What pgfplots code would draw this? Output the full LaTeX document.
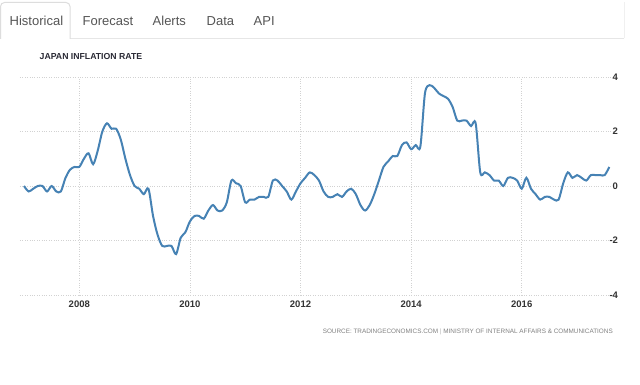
\documentclass[border=0pt]{standalone}
\usepackage{pgfplots}
\usepackage{pgfplotstable}
\pgfplotsset{compat=1.18}
\usepackage{fontspec}
\setmainfont{Liberation Sans}
\definecolor{linecol}{HTML}{4682B4}
\definecolor{tabborder}{HTML}{DDDDDD}
\definecolor{tabline}{HTML}{E6E6E6}
\definecolor{tabtext}{HTML}{555555}
\definecolor{titlecol}{HTML}{2A2A35}
\definecolor{labelcol}{HTML}{333333}
\definecolor{srccol}{HTML}{808080}
\definecolor{gridcol}{HTML}{D2D2D2}

% month index (0 = Jan 2007) and year-on-year inflation rate (%)
\pgfplotstableread{
m v
0 0.0
1 -0.2
2 -0.1
3 0.0
4 0.0
5 -0.2
6 0.0
7 -0.2
8 -0.2
9 0.3
10 0.6
11 0.7
12 0.7
13 1.0
14 1.2
15 0.8
16 1.3
17 2.0
18 2.3
19 2.1
20 2.1
21 1.7
22 1.0
23 0.4
24 0.0
25 -0.1
26 -0.3
27 -0.1
28 -1.1
29 -1.8
30 -2.2
31 -2.2
32 -2.2
33 -2.5
34 -1.9
35 -1.7
36 -1.3
37 -1.1
38 -1.1
39 -1.2
40 -0.9
41 -0.7
42 -0.9
43 -0.9
44 -0.6
45 0.2
46 0.1
47 0.0
48 -0.6
49 -0.5
50 -0.5
51 -0.4
52 -0.4
53 -0.4
54 0.2
55 0.2
56 0.0
57 -0.2
58 -0.5
59 -0.2
60 0.1
61 0.3
62 0.5
63 0.4
64 0.2
65 -0.2
66 -0.4
67 -0.4
68 -0.3
69 -0.4
70 -0.2
71 -0.1
72 -0.3
73 -0.7
74 -0.9
75 -0.7
76 -0.3
77 0.2
78 0.7
79 0.9
80 1.1
81 1.1
82 1.5
83 1.6
84 1.35
85 1.5
86 1.45
87 3.4
88 3.7
89 3.6
90 3.4
91 3.3
92 3.2
93 2.9
94 2.4
95 2.4
96 2.4
97 2.2
98 2.3
99 0.5
100 0.5
101 0.4
102 0.2
103 0.2
104 0.0
105 0.3
106 0.3
107 0.2
108 -0.1
109 0.3
110 -0.1
111 -0.3
112 -0.5
113 -0.4
114 -0.4
115 -0.5
116 -0.5
117 0.1
118 0.5
119 0.3
120 0.4
121 0.3
122 0.2
123 0.4
124 0.4
125 0.4
126 0.4
127 0.7
}\infl

\begin{document}
\begin{tikzpicture}[x=1pt,y=1pt]
\useasboundingbox (0,0) rectangle (640,385);
\fill[white] (0,0) rectangle (640,385);
% tabs
\draw[tabline, line width=1.5pt] (70,346.5) -- (624,346.5);
\draw[white!94!black, line width=0.6pt] (624,346.5) -- (624,383);
\fill[white, rounded corners=4pt] (0.5,346) -- (0.5,382.5) -- (70,382.5) -- (70,346) -- cycle;
\draw[tabborder, line width=1pt, rounded corners=4pt] (0.5,346) -- (0.5,382.5) -- (70,382.5) -- (70,346);
\begin{scope}[every node/.style={anchor=base west, inner sep=0pt, text=tabtext, font=\fontsize{13}{13}\selectfont}]
\node at (9.5,359) {Historical};
\node at (82.5,359) {Forecast};
\node at (152.5,359) {Alerts};
\node at (206.5,359) {Data};
\node at (253.5,359) {API};
\end{scope}
% title
\node[anchor=base west, inner sep=0pt, text=titlecol, font=\bfseries\fontsize{8.7}{8.7}\selectfont] at (39.5,325.8) {JAPAN INFLATION RATE};
% source
\node[anchor=east, inner sep=0pt, text=srccol] at (613,53.5) {\resizebox{290pt}{!}{\fontsize{6.2}{6.2}\selectfont SOURCE: TRADINGECONOMICS.COM {\color{srccol!60}|} MINISTRY OF INTERNAL AFFAIRS \& COMMUNICATIONS}};
\begin{axis}[
  at={(20pt,90pt)}, anchor=south west,
  scale only axis, width=593pt, height=218pt,
  xmin=-0.87, xmax=127.8, ymin=-4, ymax=4,
  axis line style={draw=none},
  xtick={12,36,60,84,108},
  xticklabels={2008,2010,2012,2014,2016},
  ytick={-4,-2,0,2,4},
  yticklabel pos=right,
  major tick length=0pt,
  grid=major,
  grid style={dotted, color=gridcol, line width=0.8pt},
  tick label style={font=\bfseries\fontsize{9.5}{9.5}\selectfont, text=labelcol},
  /pgf/number format/assume math mode=true,
  yticklabel style={anchor=east, xshift=8.5pt},
  xticklabel style={yshift=-2pt},
  clip=false,
]
\addplot[linecol, line width=2pt, smooth, tension=0.5] table[x=m, y=v] {\infl};
\end{axis}
\end{tikzpicture}
\end{document}
